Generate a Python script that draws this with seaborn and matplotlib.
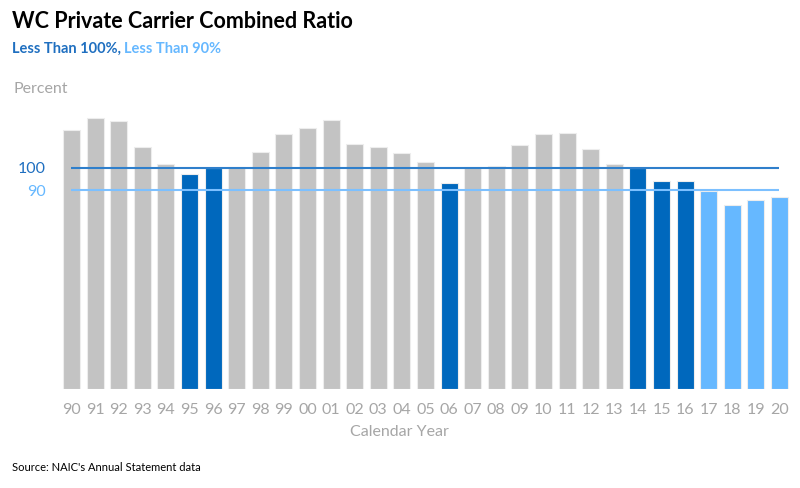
import matplotlib
matplotlib.use("Agg")
import matplotlib.pyplot as plt
import pandas as pd
import seaborn as sns

# calendar years and combined ratio (percent)
years = ['90', '91', '92', '93', '94', '95', '96', '97', '98', '99',
         '00', '01', '02', '03', '04', '05', '06', '07', '08', '09',
         '10', '11', '12', '13', '14', '15', '16', '17', '18', '19', '20']
ratio = [117.1, 122.5, 121.3, 109.4, 101.7, 97.3, 100.0, 100.5, 107.4, 115.5,
         118.2, 121.6, 111.0, 109.4, 106.8, 102.6, 93.4, 100.5, 100.9, 110.4,
         115.2, 115.7, 108.5, 101.7, 100.0, 94.0, 94.0, 89.5, 83.3, 85.5, 87.0]
ref_lines = [100, 90]

GRAY = '#C3C3C3'
DARK = '#0068BD'
LIGHT = '#66B8FF'
TXT_GRAY = '#A6A6A6'


def band(v):
    if v < 90:
        return 'lt90'
    if v <= 100:
        return 'lt100'
    return 'other'


df = pd.DataFrame({'year': years, 'ratio': ratio})
df['band'] = df['ratio'].apply(band)
palette = {'other': GRAY, 'lt100': DARK, 'lt90': LIGHT}

sns.set_style("white")
plt.rcParams['font.family'] = ['Lato', 'DejaVu Sans']

fig = plt.figure(figsize=(8, 4.88), dpi=100)
ax = fig.add_axes([0.0746, 0.2029, 0.9145, 0.5887])

sns.barplot(data=df, x='year', y='ratio', hue='band', palette=palette,
            order=years, dodge=False, width=0.72, legend=False, saturation=1,
            edgecolor='#EDEDED', linewidth=0.8, ax=ax)

ax.hlines(ref_lines[0], 0, len(years) - 1, color='#2F7FCB', lw=1.5, zorder=5)
ax.hlines(ref_lines[1], 0, len(years) - 1, color='#7CC0FF', lw=1.5, zorder=5)

ax.set_xlim(-0.5, len(years) - 0.5)
ax.set_ylim(0, 130)
ax.set_yticks(ref_lines)
ax.set_yticklabels([str(v) for v in ref_lines])
for lab, c in zip(ax.get_yticklabels(), ['#1F6FC0', LIGHT]):
    lab.set_color(c)
ax.tick_params(axis='y', length=0, pad=10, labelsize=11.5)
ax.tick_params(axis='x', length=0, pad=10, labelsize=11.5, labelcolor=TXT_GRAY)
ax.set_xlabel('Calendar Year', fontsize=11.5, color=TXT_GRAY)
ax.xaxis.set_label_coords(0.465, -0.125)
ax.set_ylabel('')
for s in ax.spines.values():
    s.set_visible(False)

fig.text(0.015, 0.955, 'WC Private Carrier Combined Ratio', fontsize=15.5,
         fontweight='bold', color='black', va='center')
t1 = fig.text(0.015, 0.900, 'Less Than 100%,', fontsize=10.5, fontweight='bold',
              color='#1F6FC0', va='center')
fig.canvas.draw()
bb = t1.get_window_extent(fig.canvas.get_renderer())
fig.text(bb.x1 / fig.bbox.width + 0.004, 0.900, 'Less Than 90%', fontsize=10.5,
         fontweight='bold', color=LIGHT, va='center')
fig.text(0.017, 0.818, 'Percent', fontsize=11.5, color=TXT_GRAY, va='center')
fig.text(0.015, 0.043, "Source: NAIC's Annual Statement data", fontsize=8,
         color='black', va='center')

fig.savefig('out.png', dpi=100)
